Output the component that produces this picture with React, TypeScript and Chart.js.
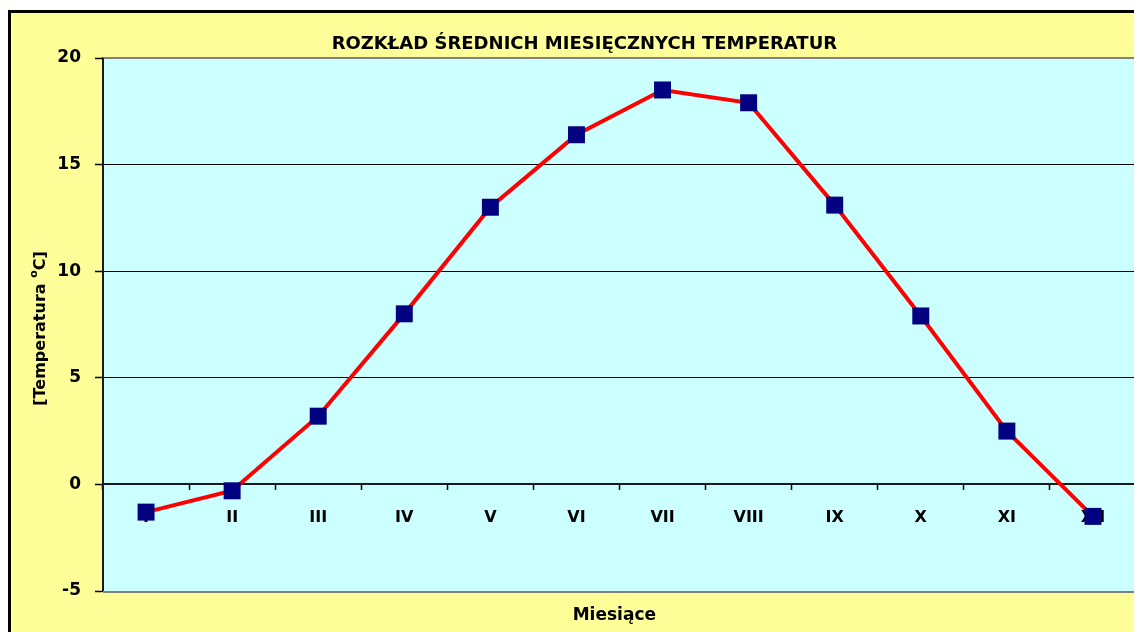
import React, { useEffect, useRef } from 'react';
import { Chart, registerables } from 'chart.js';

Chart.register(...registerables);

const months = ['I', 'II', 'III', 'IV', 'V', 'VI', 'VII', 'VIII', 'IX', 'X', 'XI', 'XII'];
const temperatures = [-1.3, -0.3, 3.2, 8.0, 13.0, 16.4, 18.5, 17.9, 13.1, 7.9, 2.5, -1.5];
const yTickValues = [-5, 0, 5, 10, 15, 20];
const chartTitle = 'ROZKŁAD ŚREDNICH MIESIĘCZNYCH TEMPERATUR';
const xAxisTitle = 'Miesiące';
const yAxisTitleParts = ['[Temperatura ', 'o', 'C]'];

const FONT = '"DejaVu Sans", sans-serif';

const backgroundPlugin = {
  id: 'excelBackground',
  beforeDraw(chart: any) {
    const { ctx, width, height, chartArea: a } = chart;
    ctx.save();
    ctx.fillStyle = '#FFFF99';
    ctx.fillRect(0, 0, width, height);
    ctx.fillStyle = '#000000';
    ctx.fillRect(0, 0, width, 3);
    ctx.fillRect(0, 0, 3, height);
    ctx.fillStyle = '#CCFFFF';
    ctx.fillRect(a.left, a.top, a.right - a.left, a.bottom - a.top);
    ctx.restore();
  },
  beforeDatasetsDraw(chart: any) {
    const { ctx, chartArea: a } = chart;
    ctx.save();
    ctx.strokeStyle = '#808080';
    ctx.lineWidth = 2;
    ctx.beginPath();
    ctx.moveTo(a.left, a.top);
    ctx.lineTo(a.right + 1, a.top);
    ctx.lineTo(a.right + 1, a.bottom + 1);
    ctx.lineTo(a.left, a.bottom + 1);
    ctx.stroke();
    ctx.strokeStyle = '#1a1a1a';
    ctx.beginPath();
    ctx.moveTo(a.left, a.top);
    ctx.lineTo(a.left, a.bottom);
    ctx.stroke();
    ctx.restore();
  },
  afterDraw(chart: any) {
    const { ctx, chartArea: a } = chart;
    ctx.save();
    ctx.fillStyle = '#000000';
    ctx.textAlign = 'center';
    ctx.textBaseline = 'middle';
    ctx.font = `bold 18px ${FONT}`;
    ctx.fillText(chartTitle, a.left + (a.right - a.left) * 0.466, a.top - 14);
    ctx.font = `bold 17px ${FONT}`;
    ctx.fillText(xAxisTitle, a.left + (a.right - a.left) * 0.495, a.bottom + 25);

    // rotated y-axis title with superscript "o"
    const mainFont = `bold 16px ${FONT}`;
    const supFont = `bold 11px ${FONT}`;
    ctx.font = mainFont;
    const w1 = ctx.measureText(yAxisTitleParts[0]).width;
    const w3 = ctx.measureText(yAxisTitleParts[2]).width;
    ctx.font = supFont;
    const w2 = ctx.measureText(yAxisTitleParts[1]).width;
    const total = w1 + w2 + w3;
    const cx = 33;
    const cy = (a.top + a.bottom) / 2 + 4;
    ctx.translate(cx, cy);
    ctx.rotate(-Math.PI / 2);
    ctx.textAlign = 'left';
    ctx.textBaseline = 'middle';
    let x = -total / 2;
    ctx.font = mainFont;
    ctx.fillText(yAxisTitleParts[0], x, 0);
    x += w1;
    ctx.font = supFont;
    ctx.fillText(yAxisTitleParts[1], x, -7);
    x += w2;
    ctx.font = mainFont;
    ctx.fillText(yAxisTitleParts[2], x, 0);
    ctx.restore();
  },
};

export default function App() {
  const canvasRef = useRef<HTMLCanvasElement | null>(null);

  useEffect(() => {
    document.documentElement.style.overflow = 'hidden';
    document.body.style.overflow = 'hidden';
    const canvas = canvasRef.current;
    if (!canvas) return;
    const chart = new Chart(canvas, {
      type: 'line',
      data: {
        labels: months,
        datasets: [
          {
            data: temperatures,
            borderColor: '#FF0000',
            borderWidth: 4,
            pointStyle: 'rect',
            pointRadius: 12,
            pointHoverRadius: 12,
            pointBackgroundColor: '#000080',
            pointBorderColor: '#000080',
            pointBorderWidth: 0,
            tension: 0,
            clip: false,
          },
        ],
      },
      options: {
        responsive: false,
        animation: false,
        events: [],
        layout: { padding: { left: 0, right: 0, top: 48, bottom: 41 } },
        plugins: {
          legend: { display: false },
          tooltip: { enabled: false },
          title: { display: false },
        },
        scales: {
          x: {
            type: 'category',
            position: { y: 0 } as any,
            offset: true,
            afterFit(scale: any) {
              scale.paddingLeft = 0;
              scale.paddingRight = 0;
            },
            grid: {
              offset: true,
              drawOnChartArea: false,
              drawTicks: true,
              tickLength: 5,
              tickColor: '#000000',
              tickWidth: 1.5,
            },
            border: { display: true, color: '#1a1a1a', width: 2 },
            ticks: {
              color: '#000000',
              font: { family: FONT, size: 16, weight: 'bold' },
              padding: 19,
              maxRotation: 0,
              autoSkip: false,
            },
          },
          y: {
            type: 'linear',
            min: -5,
            max: 20,
            afterBuildTicks(scale: any) {
              scale.ticks = yTickValues.map((v) => ({ value: v }));
            },
            afterFit(scale: any) {
              scale.width = 95;
              scale.paddingTop = 0;
              scale.paddingBottom = 0;
            },
            grid: {
              color: (c: any) => (c.tick && [0, 5, 10, 15].includes(c.tick.value) ? '#000000' : 'rgba(0,0,0,0)'),
              lineWidth: 1,
              tickColor: '#000000',
              tickLength: 8,
              tickWidth: 1.5,
              drawTicks: true,
            },
            border: { display: true, color: '#1a1a1a', width: 2 },
            ticks: {
              color: '#000000',
              font: { family: FONT, size: 17, weight: 'bold' },
              padding: 14,
            },
            title: { display: false },
          },
        },
      },
      plugins: [backgroundPlugin],
    } as any);
    return () => chart.destroy();
  }, []);

  return (
    <div style={{ paddingTop: 2, width: 1134, overflow: 'hidden' }}>
      <canvas ref={canvasRef} width={1140} height={622} style={{ display: 'block' }} />
    </div>
  );
}
